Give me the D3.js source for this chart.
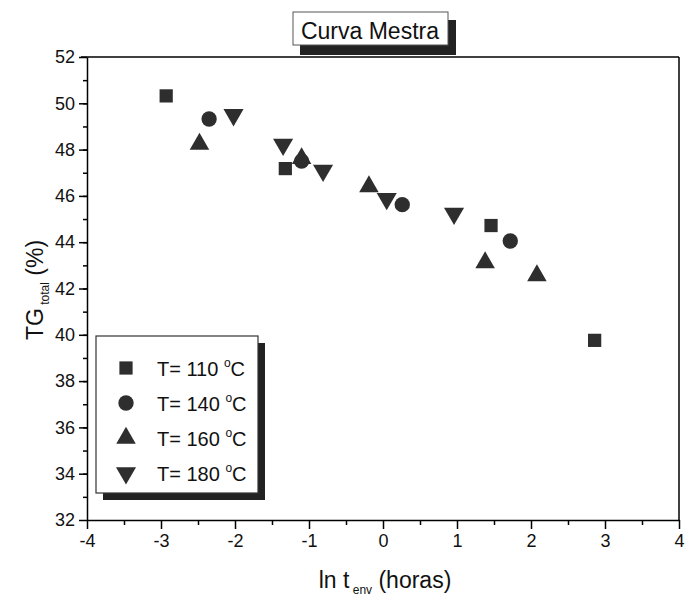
<!DOCTYPE html>
<html>
<head>
<meta charset="utf-8">
<script src="https://cdn.jsdelivr.net/npm/d3@7"></script>
<style>
  body { margin: 0; background: #fff; }
  svg { font-family: "Liberation Sans", Arial, sans-serif; }
</style>
</head>
<body>
<svg id="chart" width="686" height="601"></svg>
<script>
// data (x = ln t_env, y = TG_total %)
const series = ['T= 110', 'T= 140', 'T= 160', 'T= 180'];
const x110 = [-2.93, -1.32, 1.46, 2.86];
const y110 = [50.32, 47.18, 44.72, 39.76];
const x140 = [-2.35, -1.1, 0.26, 1.72];
const y140 = [49.32, 47.5, 45.62, 44.05];
const x160 = [-2.48, -1.1, -0.19, 1.38, 2.08];
const y160 = [48.24, 47.62, 46.4, 43.12, 42.56];
const x180 = [-2.02, -1.35, -0.81, 0.05, 0.96];
const y180 = [49.5, 48.22, 47.1, 45.88, 45.24];
const xTicks = [-4, -3, -2, -1, 0, 1, 2, 3, 4];
const yTicks = [32, 34, 36, 38, 40, 42, 44, 46, 48, 50, 52];

const svg = d3.select('#chart');
const plotL = 87, plotR = 679, plotT = 57, plotB = 520;
const ink = '#2e2e2e';

const x = d3.scaleLinear().domain([-4, 4]).range([plotL, plotR]);
const y = d3.scaleLinear().domain([32, 52]).range([plotB, plotT]);

// frame lines (top and right)
svg.append('line').attr('x1', plotL - 6).attr('x2', plotR).attr('y1', plotT).attr('y2', plotT)
  .attr('stroke', '#000').attr('stroke-width', 1.5);
svg.append('line').attr('x1', plotR).attr('x2', plotR).attr('y1', plotT).attr('y2', plotB)
  .attr('stroke', '#000').attr('stroke-width', 1.5);

// axes (plain hyphen for negatives, like the original)
svg.append('g').attr('transform', `translate(0,${plotB})`)
  .call(d3.axisBottom(x).tickValues(xTicks).tickSize(9).tickSizeOuter(0).tickPadding(5).tickFormat(d => String(d)));
svg.append('g').attr('transform', `translate(0,${plotB})`)
  .call(d3.axisBottom(x).tickValues(d3.range(-3.5, 4, 1)).tickSize(5).tickFormat(''))
  .call(g => g.select('.domain').remove());
svg.append('g').attr('transform', `translate(${plotL},0)`)
  .call(d3.axisLeft(y).tickValues(yTicks).tickSize(8).tickSizeOuter(0).tickPadding(4));
svg.append('g').attr('transform', `translate(${plotL},0)`)
  .call(d3.axisLeft(y).tickValues(d3.range(33, 52, 1)).tickSize(4).tickFormat(''))
  .call(g => g.select('.domain').remove());

svg.selectAll('.domain').attr('stroke-width', 1.5);
svg.selectAll('.tick line').attr('stroke-width', 1.5);
svg.selectAll('.tick text').attr('font-size', 18).attr('fill', '#111')
  .attr('font-family', '"Liberation Sans", Arial, sans-serif');

// axis titles
const yt = svg.append('text').attr('transform', 'translate(43,290) rotate(-90)')
  .attr('text-anchor', 'middle').attr('fill', '#111');
yt.append('tspan').attr('font-size', 23).text('TG');
yt.append('tspan').attr('font-size', 12).attr('dy', 6).text(' total');
yt.append('tspan').attr('font-size', 23).attr('dy', -6).text(' (%)');

const xt = svg.append('text').attr('x', 385).attr('y', 588)
  .attr('text-anchor', 'middle').attr('fill', '#111');
xt.append('tspan').attr('font-size', 23).text('ln t');
xt.append('tspan').attr('font-size', 12).attr('dy', 6).text(' env');
xt.append('tspan').attr('font-size', 23).attr('dy', -6).text(' (horas)');

// markers
const shapes = [
  { sym: d3.symbolSquare, size: 175, rot: 0 },
  { sym: d3.symbolCircle, size: 185, rot: 0 },
  { sym: d3.symbolTriangle, size: 165, rot: 0 },
  { sym: d3.symbolTriangle, size: 175, rot: 180 }
];
const xs = [x110, x140, x160, x180];
const ys = [y110, y140, y160, y180];

series.forEach((s, i) => {
  const pts = xs[i].map((v, j) => [v, ys[i][j]]);
  svg.append('g').selectAll('path').data(pts).enter().append('path')
    .attr('d', d3.symbol().type(shapes[i].sym).size(shapes[i].size))
    .attr('transform', d => `translate(${x(d[0])},${y(d[1])}) rotate(${shapes[i].rot})`)
    .attr('fill', ink);
});

// legend
const lg = svg.append('g');
lg.append('rect').attr('x', 103).attr('y', 343).attr('width', 162).attr('height', 157).attr('fill', '#222');
lg.append('rect').attr('x', 96).attr('y', 336).attr('width', 162).attr('height', 157)
  .attr('fill', '#fff').attr('stroke', '#333').attr('stroke-width', 1.2);
series.forEach((s, i) => {
  const ry = 368 + i * 35;
  lg.append('path').attr('d', d3.symbol().type(shapes[i].sym).size(shapes[i].size))
    .attr('transform', `translate(126,${ry}) rotate(${shapes[i].rot})`).attr('fill', ink);
  const t = lg.append('text').attr('x', 157).attr('y', ry + 8).attr('fill', '#111').attr('font-size', 20);
  t.append('tspan').text(s + ' ');
  t.append('tspan').attr('font-size', 12).attr('dy', -9).text('o');
  t.append('tspan').attr('dy', 9).text('C');
});

// title box
svg.append('rect').attr('x', 300).attr('y', 20).attr('width', 156).attr('height', 35).attr('fill', '#222');
svg.append('rect').attr('x', 293).attr('y', 12).attr('width', 155).attr('height', 33)
  .attr('fill', '#fff').attr('stroke', '#555').attr('stroke-width', 1);
svg.append('text').attr('x', 370).attr('y', 39).attr('text-anchor', 'middle')
  .attr('font-size', 23).attr('fill', '#111').text('Curva Mestra');
</script>
</body>
</html>
